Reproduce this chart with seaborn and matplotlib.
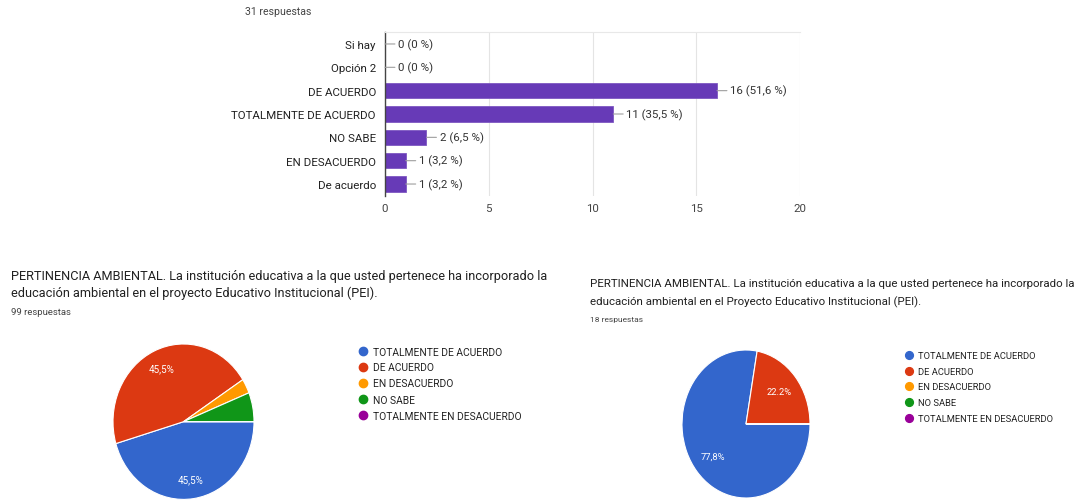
import matplotlib
matplotlib.use("Agg")
import matplotlib.pyplot as plt
import numpy as np
import pandas as pd
import seaborn as sns
from matplotlib.lines import Line2D

# ---------------- data ----------------
bar_categories = ["Si hay", "Opción 2", "DE ACUERDO", "TOTALMENTE DE ACUERDO",
                  "NO SABE", "EN DESACUERDO", "De acuerdo"]
bar_counts = [0, 0, 16, 11, 2, 1, 1]
bar_total = 31
bar_ticks = [0, 5, 10, 15, 20]

pie_labels = ["TOTALMENTE DE ACUERDO", "DE ACUERDO", "EN DESACUERDO",
              "NO SABE", "TOTALMENTE EN DESACUERDO"]
pie_colors = ["#3366CC", "#DC3912", "#FF9900", "#109618", "#990099"]
pie1_counts = [45, 45, 3, 6, 0]
pie1_total = 99
pie1_pct_text = ["45,5%", "45,5%", "", "", ""]
pie2_counts = [14, 4, 0, 0, 0]
pie2_total = 18
pie2_pct_text = ["77,8%", "22.2%", "", "", ""]

title1_lines = ["PERTINENCIA AMBIENTAL. La institución educativa a la que usted pertenece ha incorporado la",
                "educación ambiental en el proyecto Educativo Institucional (PEI)."]
title2_lines = ["PERTINENCIA AMBIENTAL. La institución educativa a la que usted pertenece ha incorporado la",
                "educación ambiental en el Proyecto Educativo Institucional (PEI)."]

# ---------------- setup ----------------
sns.set_theme(style="white")
plt.rcParams["font.family"] = ["Roboto", "DejaVu Sans"]

W, H = 1080, 502
fig = plt.figure(figsize=(W / 100, H / 100), dpi=100)
fig.patch.set_facecolor("white")
renderer = fig.canvas.get_renderer()


def fx(px):
    return px / W


def fy(py):
    return 1 - py / H


def fit_size(s, width_px, base=10.0):
    t = fig.text(0, 0, s, fontsize=base)
    w = t.get_window_extent(renderer).width
    t.remove()
    return base * width_px / w


def put(x, y_base, s, size, color="#212121", ha="left"):
    return fig.text(fx(x), fy(y_base), s, fontsize=size, color=color,
                    ha=ha, va="baseline")


# ---------------- bar chart ----------------
tick_fs = fit_size("TOTALMENTE DE ACUERDO", 144)
ax = fig.add_axes([fx(385), fy(196.7), (800 - 385) / W, (196.7 - 33.3) / H])
df = pd.DataFrame({"cat": bar_categories, "n": bar_counts})
sns.barplot(data=df, x="n", y="cat", orient="h", color="#673AB7", saturation=1,
            width=0.65, ax=ax, edgecolor="#7E57C2", linewidth=0.6)
ax.set_xlim(0, 20)
ax.set_ylim(len(bar_categories) - 0.5, -0.5)
ax.set_xticks(bar_ticks)
ax.set_xticklabels([str(t) for t in bar_ticks])
ax.xaxis.grid(True, color="#E4E4E4", linewidth=0.8)
ax.yaxis.grid(False)
ax.set_axisbelow(True)
ax.set_xlabel("")
ax.set_ylabel("")
for side in ["bottom", "right"]:
    ax.spines[side].set_visible(False)
ax.spines["top"].set_color("#E8E8E8")
ax.spines["top"].set_linewidth(0.8)
ax.spines["left"].set_color("#444444")
ax.spines["left"].set_linewidth(1.0)
ax.tick_params(axis="y", length=0, pad=6.5, labelsize=tick_fs, labelcolor="#222222")
ax.tick_params(axis="x", length=0, pad=5, labelsize=tick_fs, labelcolor="#444444")

for i, n in enumerate(bar_counts):
    pct = n / bar_total * 100
    pct_s = "0" if n == 0 else f"{pct:.1f}".replace(".", ",")
    ax.annotate(f"{n} ({pct_s} %)", xy=(n, i), xytext=(9.5, 0),
                textcoords="offset points", ha="left", va="center",
                fontsize=tick_fs, color="#333333",
                arrowprops=dict(arrowstyle="-", color="#9E9E9E", lw=0.8,
                                shrinkA=0, shrinkB=0))

put(245, 15, f"{bar_total} respuestas", fit_size(f"{bar_total} respuestas", 66), "#444444")

# ---------------- pies ----------------
def draw_pie(cx, cy, rx, ry, counts, pct_text, pctdist, pct_fs):
    pax = fig.add_axes([fx(cx - 1.25 * rx), fy(cy + 1.25 * ry),
                        2.5 * rx / W, 2.5 * ry / H])
    wedges, texts, autotexts = pax.pie(
        counts, colors=pie_colors, startangle=0, counterclock=False,
        autopct=lambda p: "", pctdistance=pctdist,
        wedgeprops=dict(edgecolor="white", linewidth=0.8),
        textprops=dict(color="white", fontsize=pct_fs))
    for t, s in zip(autotexts, pct_text):
        t.set_text(s)
    pax.set_aspect("auto")
    pax.set_xlim(-1.25, 1.25)
    pax.set_ylim(-1.25, 1.25)
    pax.axis("off")
    return pax


pct_fs = fit_size("45,5%", 26)
draw_pie(183.5, 422.7, 70.5, 77.7, pie1_counts, pie1_pct_text, 0.75, pct_fs)
draw_pie(746, 425, 64, 74, pie2_counts, pie2_pct_text, 0.68, pct_fs * 0.95)

# titles
t1_fs = fit_size(title1_lines[0], 535)
put(11, 280, title1_lines[0], t1_fs)
put(11, 297.5, title1_lines[1], t1_fs)
put(11, 315, f"{pie1_total} respuestas", fit_size(f"{pie1_total} respuestas", 60), "#444444")

t2_fs = fit_size(title2_lines[0], 483)
put(590, 287, title2_lines[0], t2_fs)
put(590, 305, title2_lines[1], t2_fs)
put(590, 322, f"{pie2_total} respuestas", fit_size(f"{pie2_total} respuestas", 53), "#444444")


# legends
def draw_legend(mx, tx, ys, width_last, msize):
    fs = fit_size(pie_labels[-1], width_last)
    cap = 0.711 * fs * 100 / 72
    for lab, col, y in zip(pie_labels, pie_colors, ys):
        fig.add_artist(Line2D([fx(mx)], [fy(y)], marker="o", markersize=msize,
                              color=col, linestyle="none",
                              transform=fig.transFigure))
        put(tx, y + cap / 2, lab, fs, "#222222")


draw_legend(363, 373, [352, 367.5, 383.5, 400, 416], 148, 6.0)
draw_legend(909, 918, [356, 371.5, 387, 403, 418.5], 135, 5.6)

fig.savefig("out.png", dpi=100, facecolor="white")
